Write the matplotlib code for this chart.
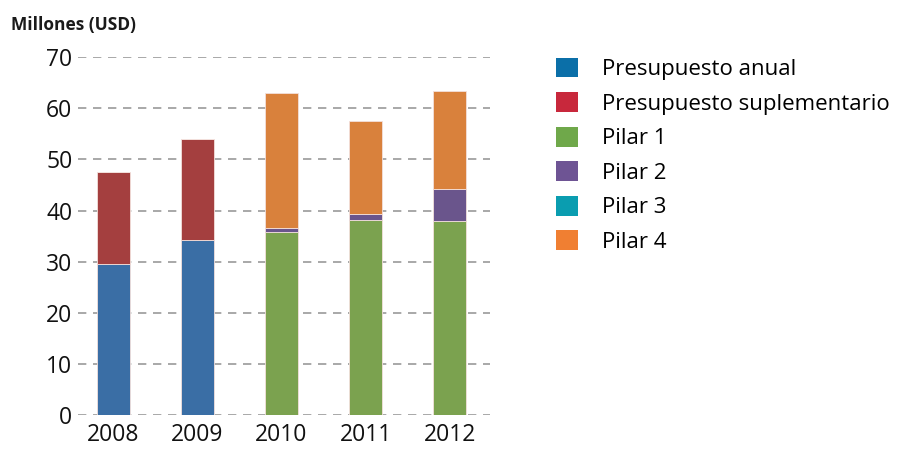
import matplotlib.pyplot as plt
from matplotlib.patches import Patch
import numpy as np

plt.rcParams['font.family'] = ['Open Sans', 'DejaVu Sans']

years = ['2008', '2009', '2010', '2011', '2012']
series = ['Presupuesto anual', 'Presupuesto suplementario', 'Pilar 1', 'Pilar 2', 'Pilar 3', 'Pilar 4']
anual = [29.6, 34.3, 0, 0, 0]
suplementario = [17.9, 19.7, 0, 0, 0]
pilar1 = [0, 0, 35.8, 38.2, 37.9]
pilar2 = [0, 0, 0.8, 1.2, 6.4]
pilar3 = [0, 0, 0, 0, 0]
pilar4 = [0, 0, 26.4, 18.1, 19.0]

# colores de las barras y de la leyenda (no son iguales en el original)
bar_colors = ['#3A6EA5', '#A43F3F', '#7BA24F', '#6A558C', '#0A9DB0', '#D9813C']
legend_colors = ['#0B6FA8', '#C8283C', '#6FA84A', '#6E5494', '#0A9DB0', '#F07F32']

fig = plt.figure(figsize=(8.99, 4.5), dpi=100)
ax = fig.add_axes([0.0868, 0.0778, 0.4582, 0.7952])

x = np.arange(len(years))
bottom = np.zeros(len(years))
for vals, c in zip([anual, suplementario, pilar1, pilar2, pilar3, pilar4], bar_colors):
    v = np.array(vals)
    ax.bar(x, v, 0.4, bottom=bottom, color=c, edgecolor='#F3E0DC', linewidth=0.6, zorder=3)
    bottom += v

ax.set_ylim(0, 70)
ax.set_xlim(-0.42, 4.48)
ax.set_yticks(range(0, 71, 10))
ax.set_xticks(x)
ax.set_xticklabels(years)
ax.yaxis.grid(True, linestyle=(0, (5, 4)), color='#999999', linewidth=1.2, zorder=0)
for s in ax.spines.values():
    s.set_visible(False)
ax.tick_params(length=0, labelsize=16.5, colors='#111111')
ax.tick_params(axis='y', pad=4)
ax.tick_params(axis='x', pad=6)

fig.text(0.012, 0.945, 'Millones (USD)', fontsize=12.5, fontweight='bold', color='#1a1a1a', va='center')

handles = [Patch(facecolor=c) for c in legend_colors]
fig.legend(handles, series, loc='upper left', bbox_to_anchor=(0.618, 0.872), frameon=False,
           fontsize=16, handlelength=1.0, handleheight=1.0, handletextpad=1.1,
           labelspacing=0.54, borderaxespad=0, borderpad=0)

fig.savefig('out.png', dpi=100)
